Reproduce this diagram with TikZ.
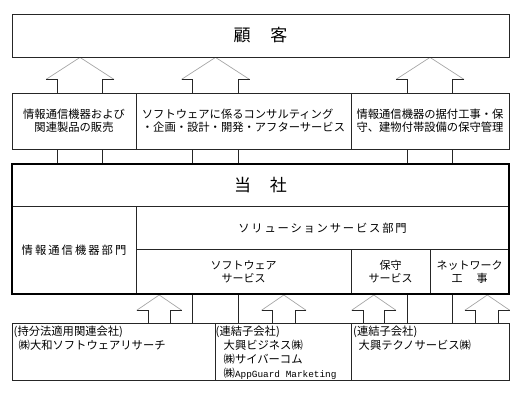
\documentclass[tikz,border=0pt]{standalone}
\usepackage{fontspec}
\setmainfont{Noto Sans CJK JP}
\newfontfamily\latinmono{Liberation Mono}
\usetikzlibrary{calc,backgrounds}

\newcommand{\blockarrow}[6]{%
  \coordinate (bat) at (#1,0 |- #2);
  \coordinate (bab) at (#1,0 |- #3);
  \draw[headline] ($(bat)+(-#5,#4)$) -- (bat) -- ($(bat)+(#5,#4)$);
  \draw[shaftline] ($(bat)+(-#5,#4)$) -- ($(bat)+(-#6,#4)$) -- ($(bab)+(-#6,0)$);
  \draw[shaftline] ($(bat)+(#5,#4)$) -- ($(bat)+(#6,#4)$) -- ($(bab)+(#6,0)$);
}

\tikzset{
  cell/.style={draw=black!85, line width=0.8pt, fill=white, inner sep=0pt, align=center,
    font=\fontsize{11.3}{13.3}\selectfont},
  bigtext/.style={font=\fontsize{17}{20}\selectfont},
  subtext/.style={font=\fontsize{11}{13.3}\selectfont},
  headline/.style={draw=black!35, line width=0.7pt},
  shaftline/.style={draw=black!85, line width=0.8pt},
  linetext/.style={inner sep=0pt, anchor=base west, font=\fontsize{11.3}{13}\selectfont},
}

\begin{document}
\begin{tikzpicture}[x=1pt,y=-1pt]
\useasboundingbox (0,0) rectangle (521,395);

% customer
\node[cell, bigtext, minimum width=497, minimum height=43] (kokyaku) at (260.5,35.5) {顧\hspace{20pt}客};

% business row
\node[cell, minimum width=124, minimum height=56] (hanbai) at (74,121) {情報通信機器および\\関連製品の販売};
\node[cell, minimum width=215, minimum height=56, align=left] (consul) at (243.5,121) {ソフトウェアに係るコンサルティング\\・企画・設計・開発・アフターサービス};
\node[cell, minimum width=158, minimum height=56, align=left] (hoshu) at (430,121) {情報通信機器の据付工事・保\\守、建物付帯設備の保守管理};

% company block
\node[cell, bigtext, minimum width=497, minimum height=42.5] (tousha) at (260.5,185.25) {当\hspace{19pt}社};
\node[cell, minimum width=124, minimum height=87.5] (joho) at (74,250.25) {\addfontfeature{LetterSpace=18}情報通信機器部門};
\node[cell, minimum width=373, minimum height=43] (solution) at (322.5,228) {\addfontfeature{LetterSpace=16}ソリューションサービス部門};
\node[cell, subtext, minimum width=215, minimum height=44.5] (software) at (243.5,271.75) {ソフトウェア\\サービス};
\node[cell, subtext, minimum width=79, minimum height=44.5] (hoshusvc) at (390.5,271.75) {保守\\サービス};
\node[cell, subtext, minimum width=79, minimum height=44.5] (network) at (469.5,271.75) {ネットワーク\\工\hspace{14pt}事};
\node[draw=black, line width=2pt, inner sep=0pt, minimum width=497, minimum height=130] (tosha) at (260.5,229) {};

% group companies
\node[cell, minimum width=203, minimum height=57] (b1) at (113.5,351.5) {};
\node[cell, minimum width=136, minimum height=57] (b2) at (283,351.5) {};
\node[cell, minimum width=158, minimum height=57] (b3) at (430,351.5) {};

\node[linetext] (t11) at (13.5,335.8) {(持分法適用関連会社)};
\node[linetext] (t12) at (18.5,349.8) {㈱大和ソフトウェアリサーチ};
\node[linetext] (t21) at (215.5,335.8) {(連結子会社)};
\node[linetext] (t22) at (223.5,349.8) {大興ビジネス㈱};
\node[linetext] (t23) at (223.5,363.8) {㈱サイバーコム};
\node[linetext] (t24) at (223.5,377.8) {㈱{\latinmono\fontsize{9.4}{10}\selectfont AppGuard Marketing}};
\node[linetext] (t31) at (353,335.8) {(連結子会社)};
\node[linetext] (t32) at (358.5,349.8) {大興テクノサービス㈱};

% block arrows
\begin{scope}[on background layer]
\blockarrow{80}{kokyaku.south}{tosha.north}{22}{34}{22.3}
\blockarrow{215.5}{kokyaku.south}{b2.north}{22}{34}{22.8}
\blockarrow{430}{kokyaku.south}{b3.north}{22}{34}{22.7}
\blockarrow{159.2}{tosha.south}{b1.north}{15.3}{22.5}{11.2}
\blockarrow{283.8}{tosha.south}{b2.north}{15.3}{22.3}{11.2}
\blockarrow{373.8}{tosha.south}{b3.north}{15.3}{22.2}{10.9}
\blockarrow{487.3}{tosha.south}{b3.north}{15.3}{22.5}{11.5}
\end{scope}
\end{tikzpicture}
\end{document}
